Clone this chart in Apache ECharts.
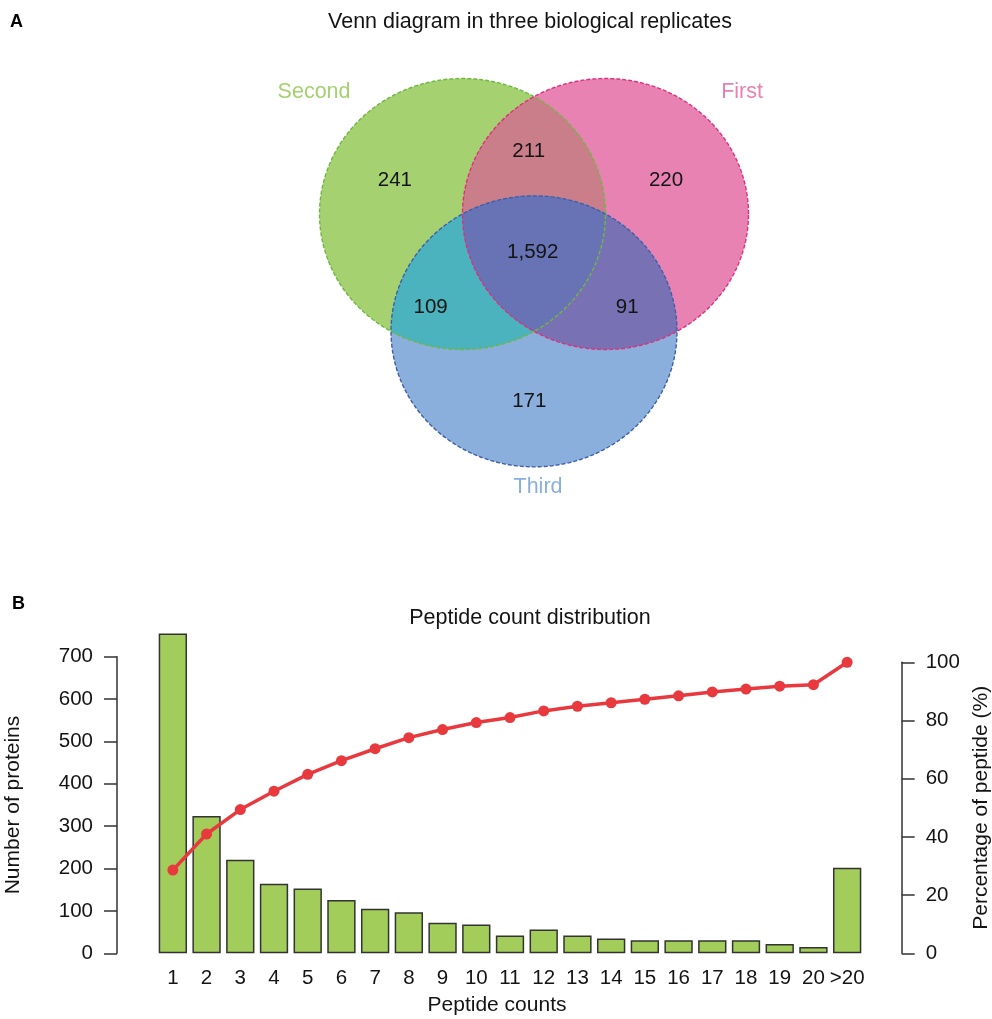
<!DOCTYPE html>
<html>
<head>
<meta charset="utf-8">
<script src="https://cdn.jsdelivr.net/npm/echarts@6/dist/echarts.min.js"></script>
<style>
  html, body { margin: 0; padding: 0; background: #ffffff; }
  #chart { width: 992px; height: 1019px; }
</style>
</head>
<body>
<div id="chart"></div>
<script>
// ---------- Panel A: proteins shared between three biological replicates ----------
const setNames = ['Second', 'First', 'Third'];
// each region lists the sets it belongs to (indices into setNames)
const regionSets = [[0], [1], [2], [0, 1], [0, 2], [1, 2], [0, 1, 2]];
const regionCounts = [241, 220, 171, 211, 109, 91, 1592];

// ---------- Panel B: peptide count distribution ----------
const peptideCategories = ['1', '2', '3', '4', '5', '6', '7', '8', '9', '10',
  '11', '12', '13', '14', '15', '16', '17', '18', '19', '20', '>20'];
const proteinCounts = [755, 324, 221, 164, 153, 126, 105, 97, 72, 68,
  42, 56, 42, 35, 31, 31, 31, 31, 22, 15, 202];
const cumulativePercent = [28.6, 41.0, 49.4, 55.7, 61.5, 66.2, 70.3, 74.1, 76.9, 79.3,
  81.0, 83.3, 84.9, 86.1, 87.3, 88.5, 89.8, 90.8, 91.8, 92.3, 100];

// ---------- Venn geometry and styling (unit circles, Venn coordinate space) ----------
const venn = {
  centers: [[-0.5, 0], [0.5, 0], [0, -0.866]],
  radius: 1,
  fills: ['#A6D170', '#E882B3', '#8AAFDC', '#C97E8A', '#4AB3BE', '#7871B3', '#6873B6'],
  strokes: ['#6FB743', '#E0307C', '#3F5FAA'],
  nameColors: ['#A6D170', '#E882B3', '#8AAFDC'],
  countAnchors: [[-0.973, 0.245], [0.923, 0.245], [-0.033, -1.385],
    [-0.037, 0.459], [-0.723, -0.689], [0.652, -0.689], [-0.009, -0.286]],
  nameAnchors: [[-1.538, 0.9], [1.455, 0.9], [0.028, -2.015]]
};

const FONT = '"Liberation Sans", Arial, sans-serif';
const INK = '#141414';
const AXIS = '#333333';

function circlePoly(c, r, n) {
  const pts = [];
  for (let i = 0; i < n; i++) {
    const a = 2 * Math.PI * i / n;
    pts.push([c[0] + r * Math.cos(a), c[1] + r * Math.sin(a)]);
  }
  return pts;
}

// Sutherland–Hodgman: clip a polygon by a convex, counter-clockwise clipper
function clipConvex(subject, clipper) {
  let out = subject;
  for (let i = 0; i < clipper.length && out.length; i++) {
    const a = clipper[i], b = clipper[(i + 1) % clipper.length];
    const side = p => (b[0] - a[0]) * (p[1] - a[1]) - (b[1] - a[1]) * (p[0] - a[0]);
    const cut = (s, e) => {
      const ds = side(s), de = side(e);
      const t = ds / (ds - de);
      return [s[0] + t * (e[0] - s[0]), s[1] + t * (e[1] - s[1])];
    };
    const input = out;
    out = [];
    for (let j = 0; j < input.length; j++) {
      const s = input[(j + input.length - 1) % input.length], e = input[j];
      const si = side(s) >= 0, ei = side(e) >= 0;
      if (ei) {
        if (!si) out.push(cut(s, e));
        out.push(e);
      } else if (si) {
        out.push(cut(s, e));
      }
    }
  }
  return out;
}

function regionPolygon(members) {
  let poly = circlePoly(venn.centers[members[0]], venn.radius, 360);
  for (let k = 1; k < members.length; k++) {
    poly = clipConvex(poly, circlePoly(venn.centers[members[k]], venn.radius, 360));
  }
  return poly;
}

const chart = echarts.init(document.getElementById('chart'), null, { renderer: 'canvas' });

const option = {
  animation: false,
  backgroundColor: '#ffffff',
  textStyle: { fontFamily: FONT, color: INK },
  title: [
    { text: 'A', left: 10, top: 13, padding: 0,
      textStyle: { fontFamily: FONT, fontWeight: 'bold', fontSize: 18, color: '#000' } },
    { text: 'Venn diagram in three biological replicates', left: 530, top: 11, padding: 0,
      textAlign: 'center', textStyle: { fontFamily: FONT, fontWeight: 'normal', fontSize: 21.5, color: INK } },
    { text: 'B', left: 12, top: 595, padding: 0,
      textStyle: { fontFamily: FONT, fontWeight: 'bold', fontSize: 18, color: '#000' } },
    { text: 'Peptide count distribution', left: 530, top: 607, padding: 0,
      textAlign: 'center', textStyle: { fontFamily: FONT, fontWeight: 'normal', fontSize: 21.5, color: INK } }
  ],
  grid: [
    { left: 248, width: 572, top: 10.75, height: 501.35, outerBoundsMode: 'none' },
    { left: 156, right: 128, top: 656.7, height: 296.6, outerBoundsMode: 'none' },
    { left: 156, right: 128, top: 662.3, height: 291.0, outerBoundsMode: 'none' }
  ],
  xAxis: [
    { type: 'value', gridIndex: 0, min: -2, max: 2, show: false },
    {
      type: 'category', gridIndex: 1, data: peptideCategories,
      axisLine: { show: false }, axisTick: { show: false }, splitLine: { show: false },
      axisLabel: { fontFamily: FONT, fontSize: 20.5, color: INK, margin: 15, interval: 0 },
      name: 'Peptide counts', nameLocation: 'middle', nameGap: 41,
      nameTextStyle: { fontFamily: FONT, fontSize: 21, color: INK, padding: [0, 26, 0, 0] }
    },
    { type: 'category', gridIndex: 2, data: peptideCategories, show: false }
  ],
  yAxis: [
    { type: 'value', gridIndex: 0, min: -2.2, max: 1.5, show: false },
    {
      type: 'value', gridIndex: 1, min: 0, max: 700, interval: 100, position: 'left', offset: 39,
      axisLine: { show: true, lineStyle: { color: AXIS, width: 1.5 } },
      axisTick: { show: true, length: 13, lineStyle: { color: AXIS, width: 1.5 } },
      splitLine: { show: false },
      axisLabel: { fontFamily: FONT, fontSize: 20.5, color: INK, margin: 24 },
      name: 'Number of proteins', nameLocation: 'middle', nameGap: 93,
      nameTextStyle: { fontFamily: FONT, fontSize: 21, color: INK }
    },
    {
      type: 'value', gridIndex: 2, min: 0, max: 100, interval: 20, position: 'right', offset: 37.7,
      axisLine: { show: true, lineStyle: { color: AXIS, width: 1.5 } },
      axisTick: { show: true, length: 13, lineStyle: { color: AXIS, width: 1.5 } },
      splitLine: { show: false },
      axisLabel: { fontFamily: FONT, fontSize: 20.5, color: INK, margin: 24 },
      name: 'Percentage of peptide (%)', nameLocation: 'middle', nameGap: 67,
      nameTextStyle: { fontFamily: FONT, fontSize: 21, color: INK }
    }
  ],
  series: [
    // filled Venn regions: single circles first, then pairwise overlaps, then the triple overlap
    {
      type: 'custom', xAxisIndex: 0, yAxisIndex: 0, silent: true,
      data: regionCounts.map((v, i) => ({ value: [i, v] })),
      renderItem: function (params, api) {
        const poly = regionPolygon(regionSets[params.dataIndex]);
        return {
          type: 'polygon',
          shape: { points: poly.map(p => api.coord(p)) },
          style: { fill: venn.fills[params.dataIndex], stroke: null }
        };
      }
    },
    // dashed circle outlines
    {
      type: 'custom', xAxisIndex: 0, yAxisIndex: 0, silent: true,
      data: setNames.map((n, i) => ({ value: [i, 0] })),
      renderItem: function (params, api) {
        const poly = circlePoly(venn.centers[params.dataIndex], venn.radius, 360);
        return {
          type: 'polygon',
          shape: { points: poly.map(p => api.coord(p)) },
          style: { fill: null, stroke: venn.strokes[params.dataIndex], lineWidth: 1.4, lineDash: [4, 2] }
        };
      }
    },
    // region counts
    {
      type: 'custom', xAxisIndex: 0, yAxisIndex: 0, silent: true,
      data: regionCounts.map((v, i) => ({ value: [i, v] })),
      renderItem: function (params, api) {
        const p = api.coord(venn.countAnchors[params.dataIndex]);
        return {
          type: 'text', x: p[0], y: p[1],
          style: {
            text: regionCounts[params.dataIndex].toLocaleString('en-US'),
            fill: INK, fontFamily: FONT, fontSize: 20.5, align: 'center', verticalAlign: 'middle'
          }
        };
      }
    },
    // set names
    {
      type: 'custom', xAxisIndex: 0, yAxisIndex: 0, silent: true,
      data: setNames.map((n, i) => ({ value: [i, 0] })),
      renderItem: function (params, api) {
        const p = api.coord(venn.nameAnchors[params.dataIndex]);
        return {
          type: 'text', x: p[0], y: p[1],
          style: {
            text: setNames[params.dataIndex],
            fill: venn.nameColors[params.dataIndex], fontFamily: FONT, fontSize: 21.5,
            align: 'center', verticalAlign: 'middle'
          }
        };
      }
    },
    // number of proteins per peptide count
    {
      type: 'bar', xAxisIndex: 1, yAxisIndex: 1, data: proteinCounts, barWidth: '84%', clip: false,
      silent: true,
      itemStyle: { color: '#A2CD5A', borderColor: '#333333', borderWidth: 1.5 }
    },
    // cumulative percentage
    {
      type: 'line', xAxisIndex: 2, yAxisIndex: 2, data: cumulativePercent, clip: false,
      symbol: 'circle', symbolSize: 11, silent: true,
      lineStyle: { color: '#E8393E', width: 3.5 },
      itemStyle: { color: '#E8393E' }
    }
  ]
};

chart.setOption(option);
</script>
</body>
</html>
